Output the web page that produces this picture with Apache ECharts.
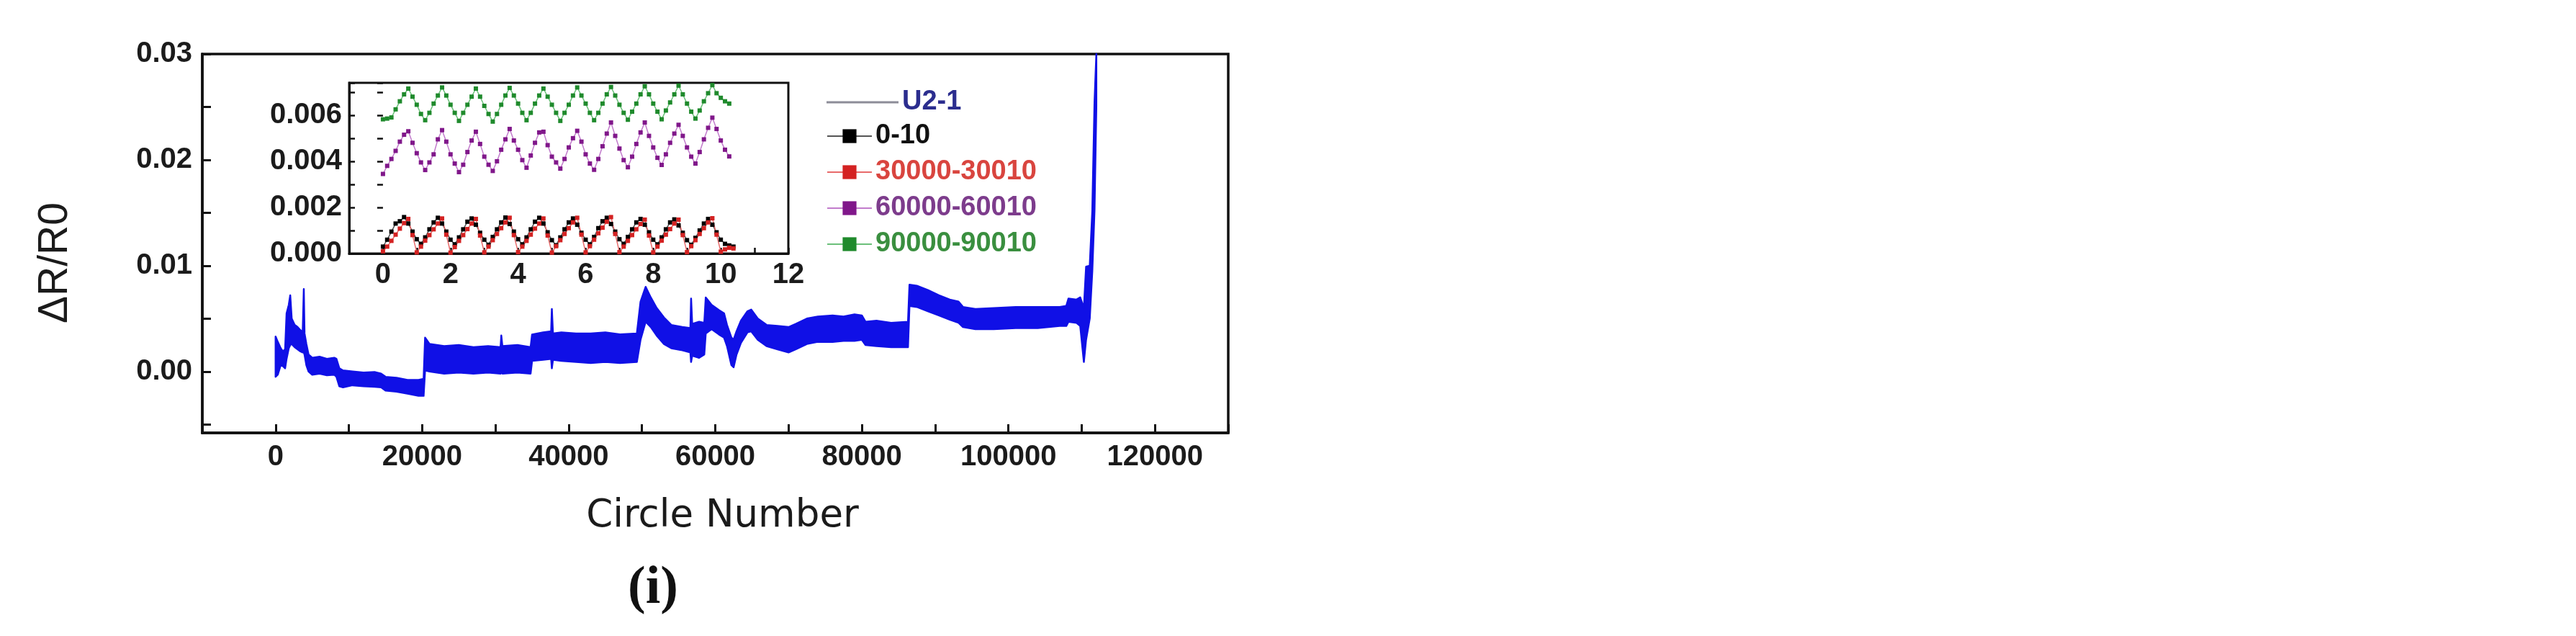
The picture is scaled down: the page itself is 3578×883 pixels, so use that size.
<!DOCTYPE html>
<html>
<head>
<meta charset="utf-8">
<script src="https://cdn.jsdelivr.net/npm/echarts@6/dist/echarts.min.js"></script>
<style>
  html, body { margin: 0; padding: 0; background: #fff; }
  #chart { width: 3578px; height: 883px; }
</style>
</head>
<body>
<div id="chart"></div>
<script>
// main curve U2-1: noisy band, given as lower / upper envelope (ΔR/R0 in units of 1e-3)
const bandX = [
  0, 300, 700, 1000, 1300, 1500, 1800, 2000, 2200, 2600,
  3000, 3400, 3700, 3850, 3950, 4200, 4500, 5000, 6000, 7000,
  8000, 8300, 8700, 9200, 10500, 12000, 13500, 14400, 15000, 16500,
  18000, 19500, 20200, 20400, 21000, 23000, 25000, 27000, 29000, 30700,
  30800, 30950, 33000, 34800, 35000, 36500, 37600, 37700, 37850, 39000,
  41000, 43000, 45000, 47000, 49300, 49800, 50500, 51200, 52000, 53000,
  54000, 55500, 56600, 56700, 56850, 57800, 58500, 58700, 59500, 60500,
  61200, 61600, 62200, 62500, 62900, 63500, 64400, 64900, 65800, 67000,
  68500, 70000, 71000, 72500, 74000, 76000, 77500, 79000, 80000, 80500,
  82000, 84000, 86300, 86500, 87500, 89000, 90500, 92000, 93200, 93800,
  95500, 98000, 101000, 104000, 107000, 107900, 108200, 109300, 109800, 110300,
  110600, 111100, 111450, 111750, 112000
];
const bandLow = [
  -0.5, -0.3, 0.6, 0.5, 0.3, 1.2, 2.2, 2.5, 2.6, 2.3,
  2.1, 1.9, 1.8, 1.8, 1.6, 0.6, 0.0, -0.3, -0.2, -0.35,
  -0.3, -0.5, -1.4, -1.5, -1.3, -1.4, -1.45, -1.5, -1.8, -1.9,
  -2.1, -2.3, -2.3, 0.1, 0.0, -0.2, -0.1, -0.2, -0.1, -0.2,
  -0.1, -0.2, -0.1, -0.2, 1.0, 1.1, 1.2, 0.3, 1.1, 1.0,
  0.9, 0.8, 0.9, 0.8, 0.9, 3.0, 4.7, 4.2, 3.4, 2.6,
  2.2, 2.0, 1.8, 0.9, 1.5, 1.3, 1.6, 3.6, 4.0, 3.5,
  3.2, 2.4, 0.6, 0.4, 1.6, 2.7, 3.7, 3.8, 3.0, 2.4,
  2.1, 1.8, 2.1, 2.6, 2.8, 2.8, 2.9, 2.9, 3.0, 2.5,
  2.4, 2.3, 2.3, 6.2, 6.1, 5.7, 5.3, 4.9, 4.6, 4.2,
  4.0, 4.0, 4.1, 4.1, 4.3, 4.3, 4.7, 4.6, 4.3, 0.9,
  3.0, 5.0, 9.5, 15.2, 25.0
];
const bandHigh = [
  3.3, 2.8, 2.2, 1.9, 2.1, 5.5, 6.3, 7.2, 5.0, 4.4,
  4.2, 3.9, 3.7, 7.8, 3.6, 2.6, 1.6, 1.3, 1.4, 1.2,
  1.3, 1.2, 0.3, 0.1, 0.0, -0.1, -0.05, -0.2, -0.5, -0.6,
  -0.8, -0.8, -0.7, 3.2, 2.6, 2.4, 2.5, 2.3, 2.4, 2.3,
  3.4, 2.4, 2.5, 2.3, 3.5, 3.7, 3.8, 5.9, 3.6, 3.7,
  3.6, 3.6, 3.7, 3.5, 3.6, 6.6, 8.0, 7.0, 6.0, 5.1,
  4.4, 4.2, 4.1, 6.9, 4.5, 4.7, 4.6, 7.0, 6.3, 5.8,
  5.5, 4.4, 3.2, 3.0, 3.8, 4.8, 5.7, 5.85, 5.0, 4.4,
  4.3, 4.2, 4.5, 5.0, 5.2, 5.3, 5.2, 5.4, 5.3, 4.7,
  4.8, 4.6, 4.7, 8.2, 8.1, 7.7, 7.2, 6.8, 6.6, 6.1,
  5.9, 6.0, 6.1, 6.1, 6.1, 6.2, 6.9, 6.8, 7.0, 6.0,
  9.9, 10.0, 15.2, 25.4, 30.0
];

// inset: time within the 10 cycles, ΔR/R0 in units of 1e-3
const insetX = [
  0, 0.125, 0.25, 0.375, 0.5, 0.625, 0.75, 0.875,
  1, 1.125, 1.25, 1.375, 1.5, 1.625, 1.75, 1.875,
  2, 2.125, 2.25, 2.375, 2.5, 2.625, 2.75, 2.875,
  3, 3.125, 3.25, 3.375, 3.5, 3.625, 3.75, 3.875,
  4, 4.125, 4.25, 4.375, 4.5, 4.625, 4.75, 4.875,
  5, 5.125, 5.25, 5.375, 5.5, 5.625, 5.75, 5.875,
  6, 6.125, 6.25, 6.375, 6.5, 6.625, 6.75, 6.875,
  7, 7.125, 7.25, 7.375, 7.5, 7.625, 7.75, 7.875,
  8, 8.125, 8.25, 8.375, 8.5, 8.625, 8.75, 8.875,
  9, 9.125, 9.25, 9.375, 9.5, 9.625, 9.75, 9.875,
  10, 10.125, 10.25, 10.375
];
const run0 = [
  0.3, 0.6, 0.95, 1.3, 1.4, 1.58, 1.3, 0.95,
  0.62, 0.42, 0.7, 1.05, 1.35, 1.55, 1.3, 0.95,
  0.6, 0.4, 0.7, 1.05, 1.38, 1.52, 1.25, 0.9,
  0.6, 0.38, 0.72, 1.05, 1.35, 1.56, 1.28, 0.95,
  0.62, 0.4, 0.7, 1.05, 1.38, 1.55, 1.3, 0.92,
  0.58, 0.36, 0.7, 1.05, 1.35, 1.52, 1.25, 0.9,
  0.6, 0.4, 0.72, 1.1, 1.4, 1.55, 1.28, 0.95,
  0.62, 0.42, 0.72, 1.05, 1.35, 1.5, 1.25, 0.92,
  0.6, 0.4, 0.7, 1.05, 1.35, 1.48, 1.22, 0.9,
  0.58, 0.38, 0.68, 1.0, 1.3, 1.5, 1.25, 0.92,
  0.6, 0.42, 0.35, 0.3
];
const run30000 = [
  0.1, 0.3, 0.55, 0.82, 1.08, 1.32, 1.5, 0.8,
  0.05, 0.3, 0.56, 0.8, 1.05, 1.3, 1.52, 0.82,
  0.04, 0.28, 0.55, 0.8, 1.06, 1.3, 1.5, 0.78,
  0.05, 0.3, 0.58, 0.85, 1.1, 1.35, 1.55, 0.8,
  0.06, 0.3, 0.55, 0.82, 1.08, 1.3, 1.52, 0.78,
  0.04, 0.32, 0.58, 0.85, 1.1, 1.35, 1.55, 0.82,
  0.05, 0.32, 0.6, 0.88, 1.12, 1.38, 1.58, 0.85,
  0.06, 0.3, 0.55, 0.8, 1.05, 1.28, 1.47, 0.78,
  0.05, 0.3, 0.56, 0.82, 1.06, 1.3, 1.47, 0.8,
  0.06, 0.32, 0.58, 0.85, 1.1, 1.35, 1.53, 0.82,
  0.08, 0.18, 0.25, 0.22
];
const run60000 = [
  3.45, 3.8, 4.1, 4.45, 4.85, 5.15, 5.3, 4.8,
  4.35, 3.95, 3.62, 3.95, 4.3, 4.95, 5.35, 4.85,
  4.3, 3.9, 3.53, 3.85, 4.4, 4.9, 5.28, 4.75,
  4.2, 3.85, 3.58, 4.0, 4.5, 4.95, 5.4, 4.9,
  4.5, 4.05, 3.72, 4.25, 4.8, 5.25, 5.28, 4.7,
  4.2, 3.95, 3.68, 4.1, 4.6, 5.0, 5.32, 4.85,
  4.3, 3.9, 3.63, 4.1, 4.65, 5.2, 5.68, 5.1,
  4.55, 4.05, 3.74, 4.2, 4.75, 5.25, 5.68, 5.1,
  4.6, 4.15, 3.84, 4.3, 4.8, 5.2, 5.58, 5.1,
  4.6, 4.2, 3.9, 4.4, 4.95, 5.45, 5.89, 5.4,
  4.9, 4.5, 4.21
];
const run90000 = [
  5.82, 5.85, 5.9, 6.25, 6.6, 6.9, 7.15, 6.8,
  6.45, 6.05, 5.78, 6.1, 6.5, 6.85, 7.2, 6.85,
  6.45, 6.1, 5.75, 6.1, 6.45, 6.8, 7.15, 6.8,
  6.4, 6.05, 5.72, 6.05, 6.45, 6.85, 7.18, 6.85,
  6.5, 6.1, 5.78, 6.1, 6.5, 6.85, 7.15, 6.8,
  6.45, 6.1, 5.75, 6.1, 6.45, 6.85, 7.2, 6.85,
  6.5, 6.1, 5.78, 6.1, 6.5, 6.9, 7.22, 6.85,
  6.45, 6.1, 5.8, 6.15, 6.5, 6.9, 7.25, 6.9,
  6.5, 6.15, 5.82, 6.2, 6.55, 6.9, 7.28, 6.9,
  6.5, 6.15, 5.85, 6.2, 6.6, 6.95, 7.3, 6.95,
  6.75, 6.6, 6.5
];

const mainYTicks = [-5, 0, 5, 10, 15, 20, 25, 30];
const mainYLabels = [0, 10, 20, 30];

const labelFont = { fontFamily: "Liberation Sans, Arial, sans-serif", fontWeight: "bold", fontSize: 40, color: "#1b1b1b" };
const axisLine = { show: true, onZero: false, lineStyle: { color: "#111", width: 3.5 } };
const insetLine = { show: true, onZero: false, lineStyle: { color: "#111", width: 3 } };
const blue = "#1010e6";

function pairs(xs, ys) {
  return ys.map((v, i) => [xs[i], v]);
}

function insetSeries(name, ys, line, dot) {
  return {
    name: name,
    type: "line",
    xAxisIndex: 1,
    yAxisIndex: 1,
    data: pairs(insetX, ys),
    symbol: "rect",
    symbolSize: 6,
    itemStyle: { color: dot },
    lineStyle: { color: line, width: 1.5 },
    z: 5
  };
}

// the band is one polygon: upper envelope left to right, lower envelope back
function renderBand(params, api) {
  if (params.dataIndex !== 0) return;
  var pts = [];
  for (var i = 0; i < bandX.length; i++) pts.push(api.coord([bandX[i], bandHigh[i]]));
  for (var j = bandX.length - 1; j >= 0; j--) pts.push(api.coord([bandX[j], bandLow[j]]));
  return {
    type: "polygon",
    shape: { points: pts },
    style: { fill: blue, stroke: blue, lineWidth: 2.5, lineJoin: "round" }
  };
}

var chart = echarts.init(document.getElementById("chart"), null, { renderer: "canvas" });

var option = {
  animation: false,
  backgroundColor: "#fff",
  grid: [
    { left: 281, top: 75, width: 1425, height: 526, show: true, borderColor: "#111", borderWidth: 3.5 },
    { left: 485, top: 115, width: 610, height: 237, show: true, borderColor: "#111", borderWidth: 3, backgroundColor: "#fff", z: 4 }
  ],
  xAxis: [
    {
      type: "value",
      gridIndex: 0,
      min: -10000,
      max: 130000,
      interval: 10000,
      axisLine: axisLine,
      axisTick: { inside: true, length: 12, lineStyle: { color: "#111", width: 3 } },
      splitLine: { show: false },
      axisLabel: Object.assign({}, labelFont, {
        margin: 14,
        formatter: v => (v >= 0 && v % 20000 === 0) ? String(v) : ""
      }),
      name: "Circle Number",
      nameLocation: "middle",
      nameGap: 90,
      nameTextStyle: { fontFamily: "DejaVu Sans, sans-serif", fontSize: 53, color: "#1b1b1b", padding: [0, 0, 0, 20] }
    },
    {
      type: "value",
      gridIndex: 1,
      min: -1,
      max: 12,
      interval: 1,
      axisLine: insetLine,
      axisTick: { inside: true, length: 8, lineStyle: { color: "#111", width: 2.5 } },
      splitLine: { show: false },
      axisLabel: Object.assign({}, labelFont, {
        margin: 10,
        formatter: v => (v >= 0 && v % 2 === 0) ? String(v) : ""
      }),
      z: 5
    }
  ],
  yAxis: [
    {
      type: "value",
      gridIndex: 0,
      min: -5.8,
      max: 30,
      axisLine: axisLine,
      axisTick: { inside: true, length: 12, customValues: mainYTicks, lineStyle: { color: "#111", width: 3 } },
      splitLine: { show: false },
      axisLabel: Object.assign({}, labelFont, {
        margin: 14,
        customValues: mainYLabels,
        formatter: v => (v / 1000).toFixed(2)
      }),
      name: "ΔR/R0",
      nameLocation: "middle",
      nameGap: 175,
      nameTextStyle: { fontFamily: "Liberation Sans, Arial, sans-serif", fontSize: 57, color: "#1b1b1b", padding: [0, 54, 0, 0] }
    },
    {
      type: "value",
      gridIndex: 1,
      min: 0,
      max: 7.4,
      interval: 1,
      axisLine: insetLine,
      axisTick: { inside: true, length: 8, lineStyle: { color: "#111", width: 2.5 } },
      splitLine: { show: false },
      axisLabel: Object.assign({}, labelFont, {
        margin: 10,
        formatter: v => (v % 2 === 0) ? (v / 1000).toFixed(3) : ""
      }),
      z: 5
    },
    {
      type: "value",
      gridIndex: 1,
      position: "right",
      min: 0,
      max: 7.4,
      interval: 1,
      axisLine: { show: false },
      axisTick: { inside: true, length: 8, lineStyle: { color: "#111", width: 2.5 } },
      splitLine: { show: false },
      axisLabel: { show: false },
      z: 5
    }
  ],
  legend: [
    {
      data: [{ name: "U2-1", textStyle: { color: "#2b2d8e" }, itemStyle: { color: "#8c8c98", borderWidth: 0 } }],
      left: 1143,
      top: 117,
      icon: "rect",
      itemWidth: 100,
      itemHeight: 3,
      itemStyle: { color: "#8c8c98", borderWidth: 0 },
      textStyle: { fontFamily: "Liberation Sans, Arial, sans-serif", fontWeight: "bold", fontSize: 38, lineHeight: 40 },
      selectedMode: false
    },
    {
      data: [
        { name: "0-10", textStyle: { color: "#111" } },
        { name: "30000-30010", textStyle: { color: "#d9453f" } },
        { name: "60000-60010", textStyle: { color: "#7d3c8c" } },
        { name: "90000-90010", textStyle: { color: "#3a8f3f" } }
      ],
      orient: "vertical",
      left: 1143,
      top: 164,
      itemWidth: 62,
      itemHeight: 24,
      itemGap: 10,
      textStyle: { fontFamily: "Liberation Sans, Arial, sans-serif", fontWeight: "bold", fontSize: 38, lineHeight: 40 },
      selectedMode: false
    }
  ],
  graphic: [
    {
      type: "text",
      x: 907,
      y: 818,
      style: {
        text: "(i)",
        font: "bold 74px 'Liberation Serif', 'Times New Roman', serif",
        fill: "#111",
        align: "center",
        verticalAlign: "middle"
      }
    }
  ],
  series: [
    {
      name: "U2-1",
      type: "custom",
      xAxisIndex: 0,
      yAxisIndex: 0,
      data: bandX.map((x, i) => [x, bandLow[i], bandHigh[i]]),
      encode: { x: 0, y: [1, 2] },
      renderItem: renderBand,
      itemStyle: { color: blue },
      silent: true,
      z: 2
    },
    insetSeries("0-10", run0, "#555555", "#000000"),
    insetSeries("30000-30010", run30000, "#e86a6a", "#d42222"),
    insetSeries("60000-60010", run60000, "#c27ccc", "#80178a"),
    insetSeries("90000-90010", run90000, "#6cc07a", "#1f8a2c")
  ]
};

chart.setOption(option);
</script>
</body>
</html>
